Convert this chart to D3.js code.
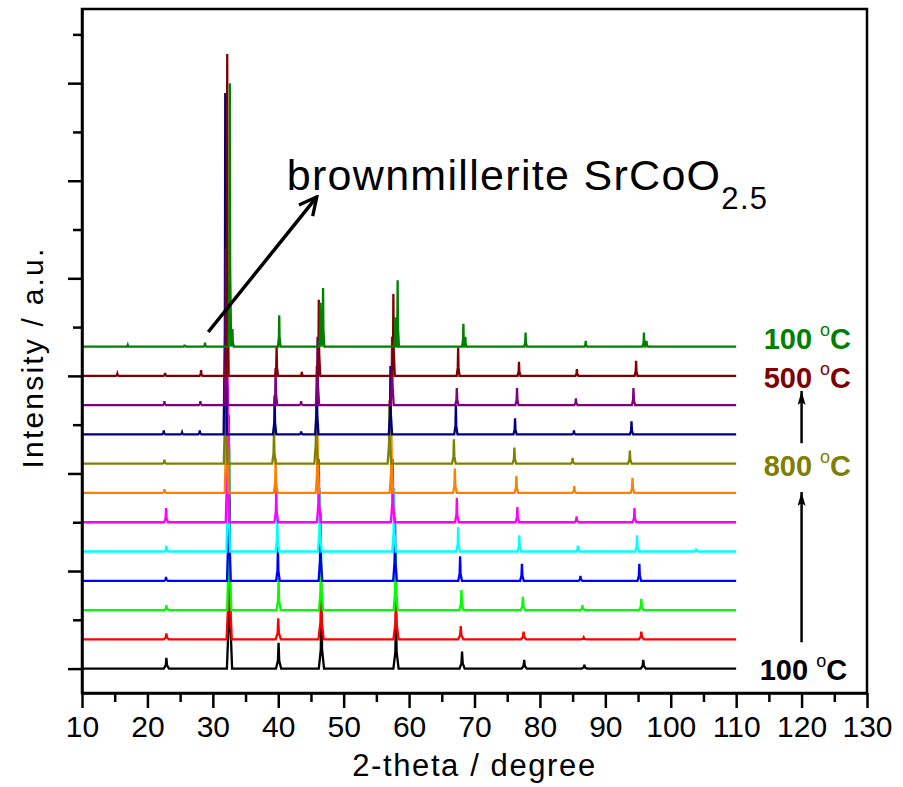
<!DOCTYPE html>
<html>
<head>
<meta charset="utf-8">
<script src="https://cdn.jsdelivr.net/npm/d3@7"></script>
<style>
  body { margin: 0; background: #fff; }
  text { font-family: Arial, "Liberation Sans", sans-serif; }
</style>
</head>
<body>
<svg id="chart"></svg>
<script>
// peak lists: [2-theta, intensity (a.u.)], bottom scan first
const run01 = [[22.9, 110], [32.55, 1750], [40.05, 265], [46.6, 650], [58.0, 560], [68.1, 175], [77.6, 90], [86.8, 40], [95.8, 90]];
const run02 = [[22.9, 60], [32.5, 1500], [40.0, 215], [46.55, 600], [58.0, 520], [67.9, 135], [77.5, 80], [86.7, 20], [95.5, 80]];
const run03 = [[22.9, 50], [32.5, 1700], [40.05, 330], [46.55, 650], [57.95, 600], [68.0, 205], [77.4, 135], [86.5, 50], [95.5, 115]];
const run04 = [[22.85, 40], [32.45, 1700], [39.95, 350], [46.45, 700], [57.85, 650], [67.8, 250], [77.25, 175], [86.2, 50], [95.2, 175]];
const run05 = [[22.9, 60], [32.35, 1700], [39.85, 350], [46.35, 650], [57.7, 650], [67.5, 250], [76.85, 165], [85.8, 60], [94.85, 165], [103.9, 30]];
const run06 = [[22.85, 145], [32.25, 1700], [39.7, 350], [46.2, 650], [57.5, 650], [67.3, 250], [76.55, 155], [85.6, 60], [94.45, 145]];
const run07 = [[22.6, 40], [32.1, 1700], [39.6, 350], [46.0, 650], [57.3, 650], [67.0, 250], [76.4, 175], [85.25, 70], [94.15, 155]];
const run08 = [[22.6, 40], [31.95, 1700], [39.35, 350], [45.8, 650], [57.0, 650], [66.85, 250], [76.1, 165], [85.0, 60], [93.75, 135]];
const run09 = [[22.5, 40], [25.3, 20], [28.0, 40], [31.9, 3500], [39.45, 400], [43.5, 30], [45.9, 700], [57.15, 700], [67.15, 300], [76.2, 165], [85.2, 40], [94.0, 135]];
const run10 = [[22.6, 40], [28.1, 40], [32.0, 1600], [39.6, 380], [43.5, 40], [46.0, 700], [57.4, 700], [67.3, 175], [76.5, 175], [85.5, 70], [94.3, 175]];
const run11 = [[15.4, 20], [22.7, 30], [28.2, 60], [32.2, 3300], [39.75, 300], [43.6, 40], [46.2, 780], [57.6, 840], [67.5, 290], [76.8, 145], [85.65, 70], [94.7, 155]];
const run12 = [[17.0, 15], [25.7, 20], [28.8, 40], [32.6, 2700], [33.0, 180], [40.15, 320], [46.45, 450], [46.85, 600], [57.9, 300], [58.25, 680], [68.3, 235], [68.6, 100], [77.8, 145], [87.0, 60], [95.9, 145], [96.3, 60]];

const runs = [run01, run02, run03, run04, run05, run06, run07, run08, run09, run10, run11, run12];
const peakHalfWidth = [0.4, 0.4, 0.32, 0.28, 0.28, 0.28, 0.28, 0.28, 0.25, 0.25, 0.22, 0.2];

const xTicks = d3.range(10, 131, 10);
const xMinorTicks = d3.range(15, 126, 10);
const yTicks = d3.range(0, 6001, 1000);
const yMinorTicks = d3.range(500, 6501, 1000);

const labelTemps = ['100', '800', '500', '100'];
const labelRuns = [0, 7, 10, 11];

const colors = ['#000000', '#ff0000', '#00ff00', '#0000ff', '#00ffff', '#ff00ff',
                '#ff8000', '#808000', '#000080', '#800080', '#800000', '#008000'];

const WIDTH = 903, HEIGHT = 787;
const LEFT = 82, RIGHT = 867, TOP = 9, BOTTOM = 693;
const OFFSET_STEP = 300;
const X_MIN = 10, X_MAX = 110;

const x = d3.scaleLinear().domain([10, 130]).range([LEFT, RIGHT]);
const y = d3.scaleLinear().domain([-250, 6760]).range([BOTTOM, TOP]);

const svg = d3.select('#chart').attr('width', WIDTH).attr('height', HEIGHT);

// turn a peak list into a spiky pattern line
function patternPoints(peaks, w) {
    const pts = [[X_MIN, 0]];
    peaks.forEach(([p, h]) => {
        pts.push([p - w, 0], [p - w / 4, h * 0.3], [p, h], [p + w / 4, h * 0.3], [p + w, 0]);
    });
    pts.push([X_MAX, 0]);
    return pts.sort((a, b) => a[0] - b[0]);
}

const line = d3.line().x(d => x(d[0])).y(d => y(d[1]));

svg.append('g')
    .selectAll('path')
    .data(runs)
    .join('path')
    .attr('fill', 'none')
    .attr('stroke', (_, i) => colors[i])
    .attr('stroke-width', 2.3)
    .attr('stroke-linejoin', 'miter')
    .attr('d', (d, i) => line(patternPoints(d, peakHalfWidth[i]).map(p => [p[0], p[1] + i * OFFSET_STEP])));

// axes
const xAxis = svg.append('g')
    .attr('transform', `translate(0,${BOTTOM})`)
    .call(d3.axisBottom(x).tickValues(xTicks).tickSize(15).tickSizeOuter(0).tickFormat(d3.format('d')));
xAxis.selectAll('text')
    .attr('y', 23)
    .attr('fill', '#000')
    .attr('font-size', 30)
    .attr('font-family', 'Arial, "Liberation Sans", sans-serif');

svg.append('g')
    .attr('transform', `translate(0,${BOTTOM})`)
    .call(d3.axisBottom(x).tickValues(xMinorTicks).tickSize(9).tickSizeOuter(0).tickFormat(''))
    .select('.domain').remove();

svg.append('g')
    .attr('transform', `translate(${LEFT},0)`)
    .call(d3.axisLeft(y).tickValues(yTicks).tickSize(14).tickSizeOuter(0).tickFormat(''));

svg.append('g')
    .attr('transform', `translate(${LEFT},0)`)
    .call(d3.axisLeft(y).tickValues(yMinorTicks).tickSize(9).tickSizeOuter(0).tickFormat(''))
    .select('.domain').remove();

svg.selectAll('.tick line').attr('stroke', '#000').attr('stroke-width', 2.5);

svg.append('rect')
    .attr('x', LEFT).attr('y', TOP)
    .attr('width', RIGHT - LEFT).attr('height', BOTTOM - TOP)
    .attr('fill', 'none').attr('stroke', '#000').attr('stroke-width', 2.5);
svg.selectAll('.domain').attr('stroke-width', 2.5);

// axis titles
svg.append('text')
    .attr('x', (LEFT + RIGHT) / 2)
    .attr('y', 776)
    .attr('text-anchor', 'middle')
    .attr('font-size', 31)
    .attr('letter-spacing', 1.6)
    .text('2-theta / degree');

svg.append('text')
    .attr('transform', `translate(43,${(247 + 468) / 2}) rotate(-90)`)
    .attr('text-anchor', 'middle')
    .attr('font-size', 30)
    .attr('letter-spacing', 2.2)
    .text('Intensity / a.u.');

// temperature labels
const labels = svg.append('g');
labelTemps.forEach((t, k) => {
    const i = labelRuns[k];
    const ty = y(i * OFFSET_STEP) + (k === 3 ? 2 : (k === 0 ? 11 : 12));
    const txt = labels.append('text')
        .attr('x', x(k === 0 ? 113.6 : 114.2))
        .attr('y', ty)
        .attr('fill', colors[i])
        .attr('font-size', 29)
        .attr('font-weight', 'bold');
    txt.append('tspan').text(t + ' ');
    txt.append('tspan').attr('font-size', 18).attr('font-weight', 'normal').attr('dy', -13).text('o');
    txt.append('tspan').attr('dy', 13).text('C');
});

// heating arrows at 2-theta = 120
svg.append('defs').append('marker')
    .attr('id', 'head')
    .attr('viewBox', '0 0 14 8')
    .attr('refX', 14).attr('refY', 4)
    .attr('markerWidth', 14).attr('markerHeight', 8)
    .attr('markerUnits', 'userSpaceOnUse')
    .attr('orient', 'auto')
    .append('path').attr('d', 'M0,0 L14,4 L0,8 L3,4 z').attr('fill', '#000');

svg.select('defs').append('marker')
    .attr('id', 'open')
    .attr('viewBox', '0 0 20 20')
    .attr('refX', 18).attr('refY', 10)
    .attr('markerWidth', 22).attr('markerHeight', 22)
    .attr('markerUnits', 'userSpaceOnUse')
    .attr('orient', 'auto')
    .append('path').attr('d', 'M2,2 L18,10 L2,18')
    .attr('fill', 'none').attr('stroke', '#000').attr('stroke-width', 3);

[[270, 1810], [2310, 2845]].forEach(([a, b]) => {
    svg.append('line')
        .attr('x1', x(120)).attr('y1', y(a))
        .attr('x2', x(120)).attr('y2', y(b))
        .attr('stroke', '#000').attr('stroke-width', 2.5)
        .attr('marker-end', 'url(#head)');
});

// brownmillerite annotation
svg.append('line')
    .attr('x1', x(29.3)).attr('y1', y(3450))
    .attr('x2', x(45.9)).attr('y2', y(4835))
    .attr('stroke', '#000').attr('stroke-width', 3.5)
    .attr('marker-end', 'url(#open)');

const note = svg.append('text')
    .attr('x', x(41.3))
    .attr('y', y(4905))
    .attr('font-size', 43)
    .attr('letter-spacing', 1.3)
    .text('brownmillerite SrCoO');
note.append('tspan').attr('font-size', 31).attr('dy', 19).text('2.5');
</script>
</body>
</html>
